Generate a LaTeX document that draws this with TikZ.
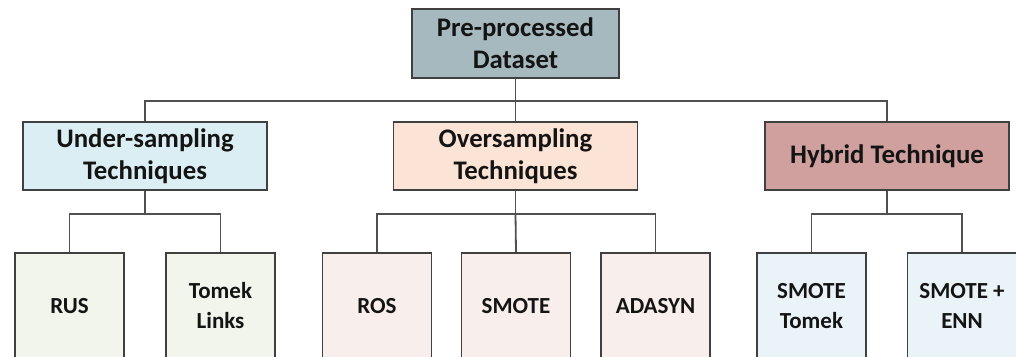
\documentclass[tikz,border=0pt]{standalone}
\usepackage{fontspec}
\setmainfont{Carlito}
\definecolor{topfill}{RGB}{166,185,190}
\definecolor{underfill}{RGB}{218,238,243}
\definecolor{overfill}{RGB}{251,228,213}
\definecolor{hybfill}{RGB}{207,160,157}
\definecolor{leafolive}{RGB}{242,245,235}
\definecolor{leafpink}{RGB}{248,238,236}
\definecolor{leafblue}{RGB}{234,243,247}
\definecolor{bordercol}{RGB}{64,64,64}
\definecolor{conncol}{RGB}{80,80,80}
\definecolor{textcol}{RGB}{20,20,20}
\begin{document}
\begin{tikzpicture}[x=1pt,y=-1pt,
  box/.style={draw=bordercol,line width=1.8pt,inner sep=0pt,align=center,text=textcol,font=\bfseries\fontsize{26.8}{32}\selectfont},
  headbox/.style={box,minimum width=244pt,minimum height=68pt},
  leafbox/.style={box,minimum width=109pt,minimum height=106pt,font=\bfseries\fontsize{23}{30}\selectfont},
  conn/.style={draw=conncol,line width=1.8pt}]
\useasboundingbox (0,0) rectangle (1016,356);
\clip (0,0) rectangle (1016,356);
\node[box,fill=topfill,minimum width=207pt,minimum height=69pt] (top) at (515.5,43.5) {Pre-processed\\Dataset};
\node[headbox,fill=underfill] (under) at (145,156) {Under-sampling\\Techniques};
\node[headbox,fill=overfill] (over) at (515.5,156) {Oversampling\\Techniques};
\node[headbox,fill=hybfill] (hyb) at (887,156) {Hybrid Technique};
\node[leafbox,fill=leafolive] (rus) at (69.5,306) {RUS};
\node[leafbox,fill=leafolive] (tomek) at (220.5,306) {Tomek\\Links};
\node[leafbox,fill=leafpink] (ros) at (377,306) {ROS};
\node[leafbox,fill=leafpink] (smote) at (516,306) {SMOTE};
\node[leafbox,fill=leafpink] (adasyn) at (655.5,306) {ADASYN};
\node[leafbox,fill=leafblue] (smt) at (811.5,306) {SMOTE\\Tomek};
\node[leafbox,fill=leafblue] (sme) at (962,306) {SMOTE +\\ENN};
% connectors
\draw[conn] (top.south) -- ++(0,22) coordinate (b0);
\draw[conn] (b0) -| (under.north);
\draw[conn] (b0) -| (hyb.north);
\draw[conn] (b0) -- (over.north);
\draw[conn] (under.south) -- ++(0,23) coordinate (b1);
\draw[conn] (b1) -| (rus.north);
\draw[conn] (b1) -| (tomek.north);
\draw[conn] (over.south) -- ++(0,23) coordinate (b2);
\draw[conn] (b2) -| (ros.north);
\draw[conn] (b2) -| (adasyn.north);
\draw[conn] (b2) -- (smote.north);
\draw[conn] (hyb.south) -- ++(0,23) coordinate (b3);
\draw[conn] (b3) -| (smt.north);
\draw[conn] (b3) -| (sme.north);
\end{tikzpicture}
\end{document}
